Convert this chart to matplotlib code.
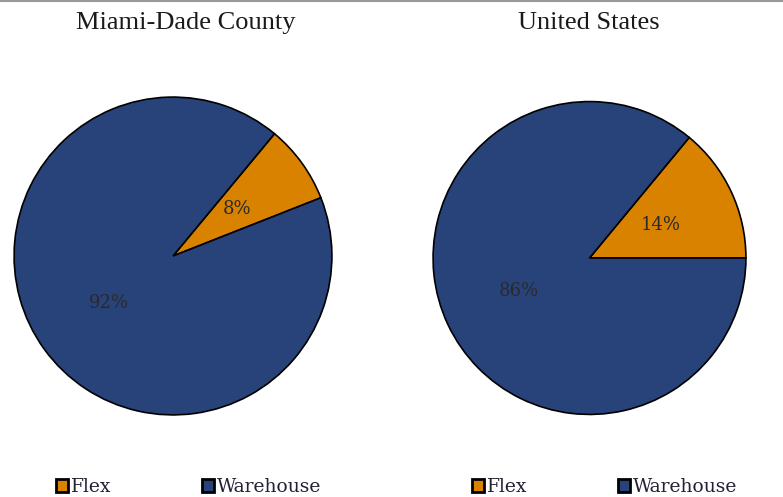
import matplotlib.pyplot as plt
from matplotlib.patches import Patch
from matplotlib.lines import Line2D

labels = ['Flex', 'Warehouse']
miami = [8, 92]
us = [14, 86]
colors = ['#D98200', '#27437A']

fig = plt.figure(figsize=(7.83, 4.97), dpi=100)
W, H = 783, 497

def pie_axes(cx, cy, r):
    return fig.add_axes([(cx - r) / W, (H - cy - r) / H, 2 * r / W, 2 * r / H])

ax1 = pie_axes(173, 256, 160.5)
ax2 = pie_axes(589.5, 258, 158)

for ax, vals, start, title, tx in [(ax1, miami, 21.5, 'Miami-Dade County', 186),
                                   (ax2, us, 0, 'United States', 589)]:
    wedges, texts, autotexts = ax.pie(vals, colors=colors, startangle=start,
                                      autopct='%d%%', pctdistance=0.5,
                                      wedgeprops=dict(edgecolor='black', linewidth=1.2),
                                      textprops=dict(family='DejaVu Serif', fontsize=13, color='#2a2a2a'))
    ax.set_xlim(-1.01, 1.01)
    ax.set_ylim(-1.01, 1.01)
    fig.text(tx / W, 1 - 23 / H, title, ha='center', va='center',
             family='Liberation Serif', fontsize=19, color='#1a1a1a')

handles = [Patch(facecolor=c, edgecolor='black', linewidth=2) for c in colors]
for x0, y0 in [(56, 478), (472, 478)]:
    fig.legend(handles, labels, loc='upper left', bbox_to_anchor=(x0 / W, 1 - y0 / H),
               ncol=2, frameon=False, handlelength=0.65, handleheight=0.65,
               handletextpad=0.15, columnspacing=4.8, borderpad=0, borderaxespad=0,
               prop=dict(family='DejaVu Serif', size=13.5), labelcolor='#222233')

fig.add_artist(Line2D([0, 1], [1 - 1 / H, 1 - 1 / H], color='#999999', linewidth=1.5))

fig.savefig('out.png', dpi=100)
